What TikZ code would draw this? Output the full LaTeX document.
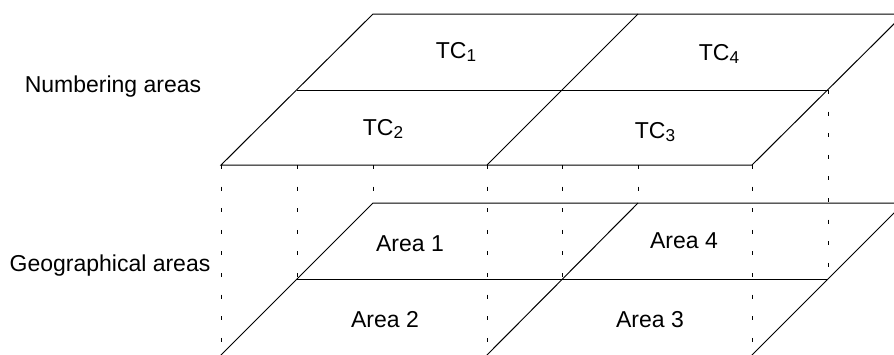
\documentclass[tikz,border=0pt]{standalone}
\usepackage{fontspec}
\setmainfont{Liberation Sans}
\newcommand{\tcidx}[1]{\raisebox{-1.8pt}{\fontsize{8.6}{9}\selectfont #1}}
\begin{document}
\begin{tikzpicture}[
  x=0.5pt, y=-0.5pt,
  every node/.style={font=\fontsize{11.5}{13}\selectfont, inner sep=0pt, anchor=base},
  plane/.style={line width=0.5pt},
  drop/.style={line width=0.45pt, dash pattern=on 2pt off 8.8pt}
]
\useasboundingbox (0,0) rectangle (894,354);
\clip (0,0) rectangle (894,354);

% Upper plane (numbering areas)
\coordinate (nTL) at (373,14);
\coordinate (nTM) at (638,14);
\coordinate (nTR) at (904,14);
\coordinate (nML) at (297,90);
\coordinate (nMR) at (828,90);
\coordinate (nBL) at (221,165);
\coordinate (nBM) at (487,165);
\coordinate (nBR) at (752,165);

% Lower plane (geographical areas), its front edge runs off the page
\coordinate (gTL) at (373,203);
\coordinate (gTM) at (638,203);
\coordinate (gTR) at (904,203);
\coordinate (gML) at (297,279);
\coordinate (gMM) at (562,279);
\coordinate (gMR) at (828,279);
\coordinate (gBL) at (219,357);
\coordinate (gBM) at (485,357);
\coordinate (gBR) at (750,357);

% Upper plane edges
\draw[plane] (nTL) -- (nTR) -- (nBR) -- (nBL) -- cycle;
\draw[plane] (nML) -- (nMR);
\draw[plane] (nTM) -- (nBM);

% Lower plane edges
\draw[plane] (gTL) -- (gTR) -- (gBR) -- (gBL) -- cycle;
\draw[plane] (gML) -- (gMR);
\draw[plane] (gTM) -- (gBM);

% Projection lines between the planes
\draw[drop] (nBL) -- (221,357);
\draw[drop] (297,165) -- (gML);
\draw[drop] (373,165) -- (gTL);
\draw[drop] (nBM) -- (487,357);
\draw[drop] (562,165) -- (gMM);
\draw[drop] (638,165) -- (gTM);
\draw[drop] (nBR) -- (752,357);
\draw[drop] (nMR) -- (gMR);

% Numbering areas
\node (tc1) at (456,58) {TC\tcidx{1}};
\node (tc2) at (383,135) {TC\tcidx{2}};
\node (tc3) at (655,138) {TC\tcidx{3}};
\node (tc4) at (719,60) {TC\tcidx{4}};

% Geographical areas
\node (area1) at (410,251) {Area 1};
\node (area2) at (385,327) {Area 2};
\node (area3) at (650,327) {Area 3};
\node (area4) at (684,248) {Area 4};

% Side labels
\node (numbering) at (113,92) {Numbering areas};
\node (geographical) at (110,271) {Geographical areas};

\end{tikzpicture}
\end{document}
